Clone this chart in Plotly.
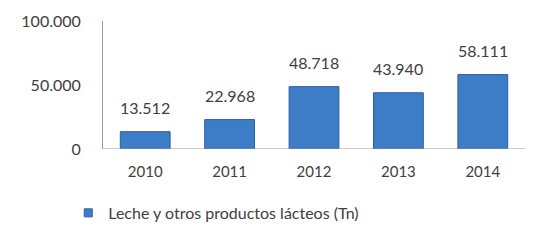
import plotly.graph_objects as go

years = ["2010", "2011", "2012", "2013", "2014"]
values = [13512, 22968, 48718, 43940, 58111]
series_name = "Leche y otros productos lácteos (Tn)"
tick_vals = [0, 50000, 100000]
tick_text = ["0", "50.000", "100.000"]

FONT = "Lato"
TXT = "#404040"
BLUE = "#3D7CC6"

fig = go.Figure()
fig.add_trace(go.Bar(
    x=years, y=values, name=series_name,
    marker=dict(color=BLUE, line=dict(color="#2B5E9E", width=1)),
    showlegend=False,
))
# legend entry with a small square symbol (no visible point)
fig.add_trace(go.Scatter(
    x=[years[0]], y=[None], mode="markers", name=series_name,
    marker=dict(symbol="square", size=8, color=BLUE, line=dict(color="#2B5E9E", width=1)),
    showlegend=True, hoverinfo="skip",
))

for i, v in enumerate(values):
    fig.add_annotation(
        x=i, y=v, text=f"{v:,}".replace(",", "."),
        showarrow=False, yanchor="bottom", yshift=13,
        font=dict(size=16, color=TXT, family=FONT),
    )

fig.update_layout(
    width=538, height=246,
    paper_bgcolor="white", plot_bgcolor="white",
    margin=dict(l=95, r=21, t=13, b=105),
    bargap=0.41,
    font=dict(family=FONT, size=15, color=TXT),
    showlegend=True,
    legend=dict(
        orientation="h", xref="container", yref="container",
        x=0.112, xanchor="left", y=0.236, yanchor="top",
        font=dict(size=16, color=TXT, family=FONT),
        itemwidth=30, itemclick=False, itemdoubleclick=False,
    ),
    xaxis=dict(type="category", categoryorder="array", categoryarray=years,
               range=[-0.5, len(years) - 0.5],
               showline=False, ticks="", tickfont=dict(size=15, color=TXT),
               showgrid=False, zeroline=False, automargin=False,
               ticklabelstandoff=12),
    yaxis=dict(range=[0, 100000], tickvals=tick_vals, ticktext=tick_text,
               showgrid=False, zeroline=False, showline=True, linecolor="#999999",
               linewidth=1, ticks="", ticklabelstandoff=18, automargin=False,
               tickfont=dict(size=16, color=TXT)),
)
fig.add_hline(y=0, line=dict(color="#999999", width=1))

fig.write_html("out.html")
